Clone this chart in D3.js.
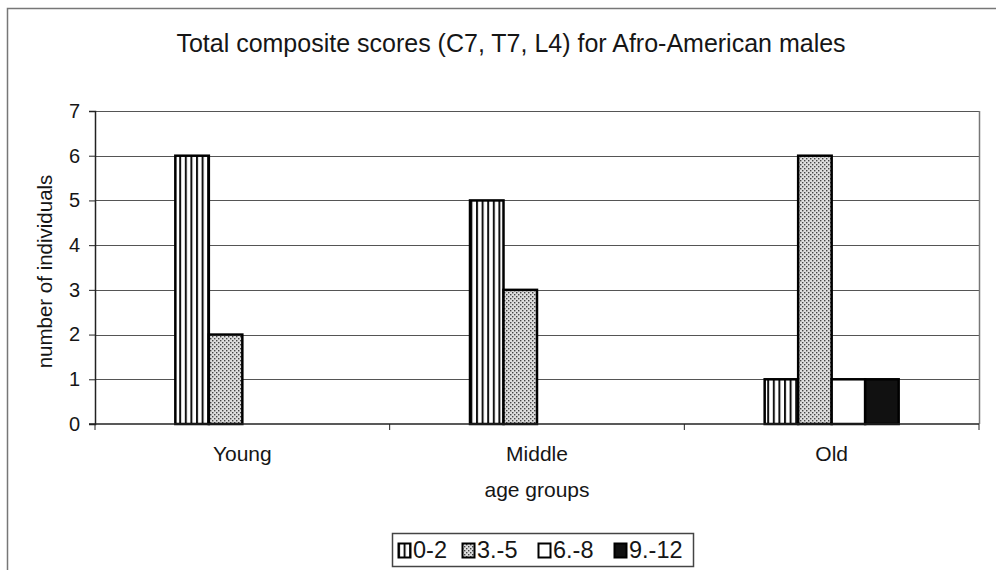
<!DOCTYPE html>
<html>
<head>
<meta charset="utf-8">
<script src="https://cdn.jsdelivr.net/npm/d3@7"></script>
<style>
  html, body { margin: 0; padding: 0; background: #fff; }
  svg { display: block; font-family: "Liberation Sans", Arial, sans-serif; }
</style>
</head>
<body>
<svg id="chart" width="996" height="570"></svg>
<script>
// Age groups on the x axis
const ageGroups = ["Young", "Middle", "Old"];
// Score ranges (one series per range)
const scoreRanges = ["0-2", "3.-5", "6.-8", "9.-12"];
// Number of individuals per age group, one array per score range
const values0to2 = [6, 5, 1];
const values3to5 = [2, 3, 6];
const values6to8 = [0, 0, 1];
const values9to12 = [0, 0, 1];
const yTicks = [0, 1, 2, 3, 4, 5, 6, 7];

const seriesValues = [values0to2, values3to5, values6to8, values9to12];

const svg = d3.select("#chart");
const W = 996, H = 570;
const plot = { left: 95, top: 111, right: 979, bottom: 424 };
const ink = "#161616";

// Patterns for the bar fills
const defs = svg.append("defs");
const stripes = defs.append("pattern")
  .attr("id", "pat-stripes").attr("patternUnits", "userSpaceOnUse")
  .attr("width", 5.6).attr("height", 10);
stripes.append("rect").attr("width", 5.6).attr("height", 10).attr("fill", "#fff");
stripes.append("rect").attr("x", 0).attr("width", 2).attr("height", 10).attr("fill", "#111");

const dots = defs.append("pattern")
  .attr("id", "pat-dots").attr("patternUnits", "userSpaceOnUse")
  .attr("width", 4).attr("height", 4);
dots.append("rect").attr("width", 4).attr("height", 4).attr("fill", "#ddd");
dots.append("rect").attr("x", 0).attr("y", 0).attr("width", 1.4).attr("height", 1.4).attr("fill", "#444");
dots.append("rect").attr("x", 2).attr("y", 2).attr("width", 1.4).attr("height", 1.4).attr("fill", "#444");

const fills = ["url(#pat-stripes)", "url(#pat-dots)", "#fff", "#111"];

// Outer chart frame
svg.append("path")
  .attr("d", `M7.5,${H} V8.5 H${W}`)
  .attr("fill", "none").attr("stroke", "#777").attr("stroke-width", 1.5);

// Scales
const x = d3.scaleBand().domain(ageGroups).range([plot.left, plot.right]);
const xInner = d3.scaleBand().domain(scoreRanges).range([0, 134]);
const y = d3.scaleLinear().domain([0, 7]).range([plot.bottom, plot.top]);

// Horizontal gridlines
svg.append("g").selectAll("line").data(yTicks.slice(1)).join("line")
  .attr("x1", plot.left).attr("x2", plot.right)
  .attr("y1", d => Math.round(y(d)) + 0.5).attr("y2", d => Math.round(y(d)) + 0.5)
  .attr("stroke", "#555").attr("stroke-width", 1);

// Right border of the plot area
svg.append("line")
  .attr("x1", plot.right + 0.5).attr("x2", plot.right + 0.5)
  .attr("y1", plot.top).attr("y2", plot.bottom)
  .attr("stroke", "#777").attr("stroke-width", 1.5);

// Bars
const groupOffset = (x.bandwidth() - 134) / 2;
const barData = [];
ageGroups.forEach((g, gi) => {
  scoreRanges.forEach((s, si) => {
    const v = seriesValues[si][gi];
    if (v > 0) barData.push({ g, s, si, v });
  });
});
svg.append("g").selectAll("rect").data(barData).join("rect")
  .attr("x", d => x(d.g) + groupOffset + xInner(d.s))
  .attr("y", d => y(d.v))
  .attr("width", xInner.bandwidth())
  .attr("height", d => y(0) - y(d.v))
  .attr("fill", d => fills[d.si])
  .attr("stroke", "#000").attr("stroke-width", 2.5);

// Y axis
const yAxis = svg.append("g").attr("transform", `translate(${plot.left},0)`)
  .call(d3.axisLeft(y).tickValues(yTicks).tickSize(6).tickPadding(9).tickFormat(d3.format("d")));
yAxis.select(".domain").attr("stroke", "#222").attr("stroke-width", 1.5);
yAxis.selectAll(".tick line").attr("stroke", "#222");
yAxis.selectAll("text").attr("font-size", 20).attr("fill", ink)
  .attr("font-family", "Liberation Sans, Arial, sans-serif");

// X axis: ticks at the category boundaries
const xAxis = svg.append("g").attr("transform", `translate(0,${plot.bottom})`);
xAxis.append("line").attr("x1", plot.left - 6).attr("x2", plot.right)
  .attr("stroke", "#222").attr("stroke-width", 1.5);
const boundaries = ageGroups.map(g => x(g)).concat([plot.right]);
xAxis.selectAll("line.tk").data(boundaries).join("line").attr("class", "tk")
  .attr("x1", d => d).attr("x2", d => d).attr("y1", 0).attr("y2", 6)
  .attr("stroke", "#222");
xAxis.selectAll("text").data(ageGroups).join("text")
  .attr("x", d => x(d) + x.bandwidth() / 2).attr("y", 37)
  .attr("text-anchor", "middle").attr("font-size", 21).attr("fill", ink)
  .text(d => d);

// Titles
svg.append("text").attr("x", 511).attr("y", 52).attr("text-anchor", "middle")
  .attr("font-size", 25).attr("fill", ink)
  .text("Total composite scores (C7, T7, L4) for Afro-American males");
svg.append("text").attr("x", (plot.left + plot.right) / 2).attr("y", 497)
  .attr("text-anchor", "middle").attr("font-size", 21).attr("fill", ink)
  .text("age groups");
svg.append("text")
  .attr("transform", `translate(52,${(plot.top + plot.bottom) / 2 + 4}) rotate(-90)`)
  .attr("text-anchor", "middle").attr("font-size", 20.5).attr("fill", ink)
  .text("number of individuals");

// Legend
const legend = svg.append("g");
legend.append("rect").attr("x", 392.5).attr("y", 533.5).attr("width", 301).attr("height", 33)
  .attr("fill", "#fff").attr("stroke", "#444").attr("stroke-width", 1.5);
const legendX = [398, 462, 538, 614];
const items = legend.selectAll("g.item").data(scoreRanges).join("g").attr("class", "item")
  .attr("transform", (d, i) => `translate(${legendX[i]},0)`);
items.append("rect").attr("x", 0.5).attr("y", 543.5).attr("width", 12).attr("height", 14)
  .attr("fill", (d, i) => fills[i]).attr("stroke", "#000").attr("stroke-width", 2);
items.append("text").attr("x", 15).attr("y", 558).attr("font-size", 23.5).attr("fill", ink)
  .text(d => d);
</script>
</body>
</html>
